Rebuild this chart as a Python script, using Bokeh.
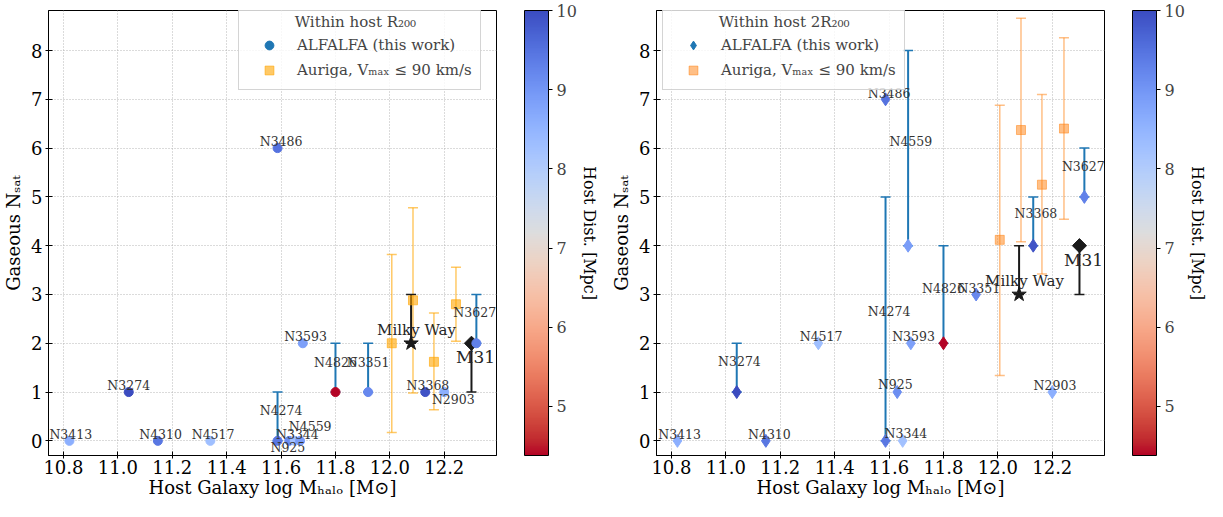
import numpy as np
from bokeh.plotting import figure
from bokeh.models import (ColumnDataSource, Range1d, LinearColorMapper, ColorBar, FixedTicker,
                          LinearAxis, Whisker, TeeHead, Legend, LegendItem, PrintfTickFormatter,
                          LabelSet)
from bokeh.layouts import row
from bokeh.embed import file_html
from bokeh.resources import INLINE
from bokeh.core.properties import value

FONT = "DejaVu Serif"

# ---------------- data ----------------
names = ["N3413", "N3274", "N4310", "N4517", "N4274", "N925", "N3344", "N4559",
         "N3486", "N3593", "N4826", "N3351", "N3368", "N2903", "N3627"]
log_mhalo = [10.822, 11.04, 11.147, 11.34, 11.587, 11.63, 11.65, 11.67,
             11.587, 11.68, 11.80, 11.92, 12.13, 12.20, 12.318]
host_dist = [8.6, 10.0, 9.45, 8.3, 9.45, 9.1, 8.25, 8.9,
             9.5, 8.85, 4.38, 9.2, 9.9, 8.6, 9.3]
nsat_r200 = [0, 1, 0, 0, 0, 0, 0, 0, 6, 2, 1, 1, 1, 1, 2]
err_r200 = [0, 0, 0, 0, 1, 0, 0, 0, 0, 0, 1, 1, 0, 0, 1]
nsat_2r200 = [0, 1, 0, 2, 0, 1, 0, 4, 7, 2, 2, 3, 4, 1, 5]
err_2r200 = [0, 1, 0, 0, 5, 0, 0, 4, 0, 0, 2, 0, 1, 0, 1]

auriga_logm = [12.007, 12.085, 12.162, 12.243]
auriga_r200 = [2.0, 2.88, 1.62, 2.80]
auriga_r200_lo = [0.17, 0.98, 0.64, 2.04]
auriga_r200_hi = [3.82, 4.78, 2.62, 3.56]
auriga_2r200 = [4.12, 6.37, 5.25, 6.40]
auriga_2r200_lo = [1.34, 4.08, 3.42, 4.54]
auriga_2r200_hi = [6.88, 8.66, 7.10, 8.26]

mw_logm = [12.078]
mw_r200, mw_r200_hi = [2], [3]
mw_2r200, mw_2r200_hi = [3], [4]
m31_logm = [12.30]
m31_r200, m31_r200_lo = [2], [1]
m31_2r200, m31_2r200_lo = [4], [3]

x_ticks = [10.8, 11.0, 11.2, 11.4, 11.6, 11.8, 12.0, 12.2]
y_ticks = [0, 1, 2, 3, 4, 5, 6, 7, 8]
cbar_ticks = [5, 6, 7, 8, 9, 10]

# label offsets (layout, in data units)
lab_dx_r200 = [0.005, 0.0, 0.01, 0.01, 0.013, -0.005, 0.01, 0.037, 0.013, 0.01, 0.0, 0.0, 0.01, 0.033, -0.006]
lab_dy_r200 = [0.04, 0.04, 0.04, 0.04, 0.52, -0.22, 0.04, 0.2, 0.04, 0.04, 0.52, 0.52, 0.04, -0.24, 0.54]
lab_dx_2r200 = [0.008, 0.01, 0.013, 0.01, 0.013, -0.007, 0.012, 0.01, 0.013, 0.01, 0.0, 0.01, 0.01, 0.01, -0.004]
lab_dy_2r200 = [0.04, 0.54, 0.04, 0.04, 2.56, 0.06, 0.06, 2.04, 0.02, 0.04, 1.04, 0.04, 0.56, 0.04, 0.54]

# ---------------- coolwarm colormap (reversed) ----------------
cw = [(59, 76, 192), (68, 90, 204), (77, 104, 215), (87, 117, 225), (98, 130, 234),
      (108, 142, 241), (119, 154, 247), (130, 165, 251), (141, 176, 254), (152, 185, 255),
      (163, 194, 255), (174, 201, 253), (184, 208, 249), (194, 213, 244), (204, 217, 238),
      (213, 219, 230), (221, 221, 221), (229, 216, 209), (236, 211, 197), (241, 204, 185),
      (245, 196, 173), (247, 187, 160), (247, 177, 148), (247, 166, 135), (244, 154, 123),
      (241, 141, 111), (236, 127, 99), (229, 112, 88), (222, 96, 77), (213, 80, 66),
      (203, 62, 56), (192, 40, 47), (180, 4, 38)]
cw = np.array(cw, dtype=float)
pos = np.linspace(0, 1, len(cw))
t = np.linspace(0, 1, 256)
pal = []
for tt in t:
    r = np.interp(tt, pos, cw[:, 0]); g = np.interp(tt, pos, cw[:, 1]); b = np.interp(tt, pos, cw[:, 2])
    pal.append("#%02x%02x%02x" % (int(round(r)), int(round(g)), int(round(b))))
pal_r = pal[::-1]
mapper = LinearColorMapper(palette=pal_r, low=min(host_dist), high=max(host_dist))

ALF = "#1f77b4"
FRAME_W = 448
FRAME_H = 445


def make_panel(nsat, err, a_y, a_lo, a_hi, mw_y, mw_hi, m31_y, m31_lo, marker, msize,
               dx, dy, title, a_color, a_alpha, b_left, b_right, legend_x):
    p = figure(frame_width=FRAME_W, frame_height=FRAME_H,
               x_range=Range1d(10.745, 12.392), y_range=Range1d(-0.3, 8.82),
               output_backend="svg", toolbar_location=None,
               min_border_left=b_left, min_border_right=b_right, min_border_top=10, min_border_bottom=46)
    p.outline_line_color = "black"
    p.outline_line_alpha = 1
    p.background_fill_color = "white"

    p.xaxis.ticker = FixedTicker(ticks=x_ticks)
    p.xaxis.formatter = PrintfTickFormatter(format="%.1f")
    p.yaxis.ticker = FixedTicker(ticks=y_ticks)
    for ax in (p.xaxis, p.yaxis):
        ax.major_label_text_font = FONT
        ax.major_label_text_font_size = "18px"
        ax.major_label_text_color = "black"
        ax.axis_label_text_font = FONT
        ax.axis_label_text_font_size = "18px"
        ax.axis_label_text_font_style = "normal"
        ax.axis_label_text_color = "black"
        ax.major_tick_in = 4
        ax.major_tick_out = 3
        ax.minor_tick_line_color = None
        ax.axis_line_color = "black"
        ax.major_tick_line_color = "black"
    p.xaxis.major_label_standoff = 1
    p.xaxis.axis_label_standoff = 0
    p.yaxis.major_label_standoff = 3
    p.yaxis.axis_label_standoff = 4
    p.xaxis.axis_label = "Host Galaxy log M\u2095\u2090\u2097\u2092 [M\u2299]"
    p.yaxis.axis_label = "Gaseous N\u209b\u2090\u209c"

    p.grid.grid_line_color = "#b0b0b0"
    p.grid.grid_line_dash = "1 2"
    p.grid.grid_line_alpha = 0.9

    # Auriga
    src_a = ColumnDataSource(dict(x=auriga_logm, y=a_y, lo=a_lo, hi=a_hi))
    p.add_layout(Whisker(source=src_a, base="x", lower="lo", upper="hi", dimension="height",
                         line_color=a_color, line_alpha=a_alpha, line_width=1.5,
                         upper_head=TeeHead(size=10, line_color=a_color, line_alpha=a_alpha, line_width=1.5),
                         lower_head=TeeHead(size=10, line_color=a_color, line_alpha=a_alpha, line_width=1.5)))
    p.scatter("x", "y", source=src_a, marker="square", size=9, fill_color=a_color, fill_alpha=a_alpha,
              line_color=a_color, line_alpha=a_alpha)

    # Milky Way and M31
    src_mw = ColumnDataSource(dict(x=mw_logm, y=mw_y, hi=mw_hi))
    p.add_layout(Whisker(source=src_mw, base="x", lower="y", upper="hi", dimension="height",
                         line_color="#1a1a1a", line_width=2,
                         upper_head=TeeHead(size=10, line_color="#1a1a1a", line_width=1.5),
                         lower_head=TeeHead(size=10, line_color="#1a1a1a", line_width=1.5)))
    p.scatter("x", "y", source=src_mw, marker="star", size=15, color="#1a1a1a")
    src_m31 = ColumnDataSource(dict(x=m31_logm, y=m31_y, lo=m31_lo))
    p.add_layout(Whisker(source=src_m31, base="x", lower="lo", upper="y", dimension="height",
                         line_color="#1a1a1a", line_width=2,
                         upper_head=TeeHead(size=10, line_color="#1a1a1a", line_width=1.5),
                         lower_head=TeeHead(size=10, line_color="#1a1a1a", line_width=1.5)))
    p.scatter("x", "y", source=src_m31, marker="square", angle=np.pi / 4, size=10, color="#1a1a1a")

    # ALFALFA
    xs_e = [x for x, e in zip(log_mhalo, err) if e > 0]
    ys_e = [y for y, e in zip(nsat, err) if e > 0]
    hi_e = [y + e for y, e in zip(nsat, err) if e > 0]
    src_e = ColumnDataSource(dict(x=xs_e, y=ys_e, hi=hi_e))
    p.add_layout(Whisker(source=src_e, base="x", lower="y", upper="hi", dimension="height",
                         line_color=ALF, line_width=2,
                         upper_head=TeeHead(size=10, line_color=ALF, line_width=1.5),
                         lower_head=TeeHead(size=10, line_color=ALF, line_width=1.5)))
    src = ColumnDataSource(dict(x=log_mhalo, y=nsat, d=host_dist, name=names,
                                lx=[a + b for a, b in zip(log_mhalo, dx)],
                                ly=[a + b for a, b in zip(nsat, dy)]))
    p.scatter("x", "y", source=src, marker=marker, size=msize,
              fill_color={"field": "d", "transform": mapper},
              line_color={"field": "d", "transform": mapper})
    p.add_layout(LabelSet(x="lx", y="ly", text="name", source=src, text_font=value(FONT),
                          text_font_size=value("12.5px"), text_color="#333333",
                          text_align="center", text_baseline="alphabetic"))
    src_lab = ColumnDataSource(dict(x=[mw_logm[0] + 0.02, m31_logm[0] + 0.015],
                                    y=[mw_y[0] + 0.17, m31_y[0] - 0.41],
                                    t=["Milky Way", "M31"], s=["15px", "17px"]))
    p.add_layout(LabelSet(x="x", y="y", text="t", source=src_lab, text_font=value(FONT),
                          text_font_size="s", text_color="#262626",
                          text_align="center", text_baseline="alphabetic"))

    # legend
    r_alf = p.scatter(x=[np.nan], y=[np.nan], marker=marker, size=msize, color=ALF)
    r_aur = p.scatter(x=[np.nan], y=[np.nan], marker="square", size=9, color=a_color, alpha=a_alpha)
    legend = Legend(items=[LegendItem(label="ALFALFA (this work)", renderers=[r_alf]),
                           LegendItem(label="Auriga, V\u2098\u2090\u2093 \u2264 90 km/s", renderers=[r_aur])],
                    title=title, location=(legend_x, 365))
    legend.label_text_font = FONT
    legend.label_text_font_size = "15px"
    legend.title_text_font = FONT
    legend.title_text_font_size = "15px"
    legend.title_text_font_style = "normal"
    legend.title_standoff = 3
    legend.padding = 8
    legend.spacing = 3
    legend.margin = 0
    legend.glyph_width = 44
    legend.glyph_height = 22
    legend.label_height = 22
    legend.label_standoff = 6
    legend.border_line_color = "#aaaaaa"
    legend.border_line_width = 1
    legend.background_fill_alpha = 0.8
    p.add_layout(legend)

    # colorbar
    cb = ColorBar(color_mapper=mapper, ticker=FixedTicker(ticks=cbar_ticks),
                  formatter=PrintfTickFormatter(format="%d"),
                  width=24, height=FRAME_H, padding=0, margin=0, location=(FRAME_W + 28, 0),
                  bar_line_color="black", bar_line_width=1, major_tick_in=0, major_tick_out=4,
                  major_tick_line_color="black", major_label_text_font=FONT,
                  major_label_text_font_size="16px", label_standoff=4, background_fill_color=None)
    p.add_layout(cb)
    lab_ax = LinearAxis(ticker=FixedTicker(ticks=[]), axis_line_color=None, major_tick_line_color=None,
                        minor_tick_line_color=None, major_tick_in=0, major_tick_out=0,
                        major_label_text_font_size="0px", major_label_standoff=0,
                        axis_label="Host Dist. [Mpc]", axis_label_text_font=FONT,
                        axis_label_text_font_size="16px", axis_label_text_font_style="normal",
                        axis_label_text_color="black", axis_label_standoff=83)
    p.add_layout(lab_ax, "right")
    return p


p1 = make_panel(nsat_r200, err_r200, auriga_r200, auriga_r200_lo, auriga_r200_hi,
                mw_r200, mw_r200_hi, m31_r200, m31_r200_lo, "circle", 9,
                lab_dx_r200, lab_dy_r200, "\u00a0" * 10 + "Within host R\u2082\u2080\u2080",
                "orange", 0.6, 43, 111, 190)
p2 = make_panel(nsat_2r200, err_2r200, auriga_2r200, auriga_2r200_lo, auriga_2r200_hi,
                mw_2r200, mw_2r200_hi, m31_2r200, m31_2r200_lo, "diamond", 13,
                lab_dx_2r200, lab_dy_2r200, "\u00a0" * 10 + "Within host 2R\u2082\u2080\u2080",
                "#ff7f0e", 0.5, 49, 108, 6)

layout = row(p1, p2)
open("out.html", "w").write(file_html(layout, INLINE))
